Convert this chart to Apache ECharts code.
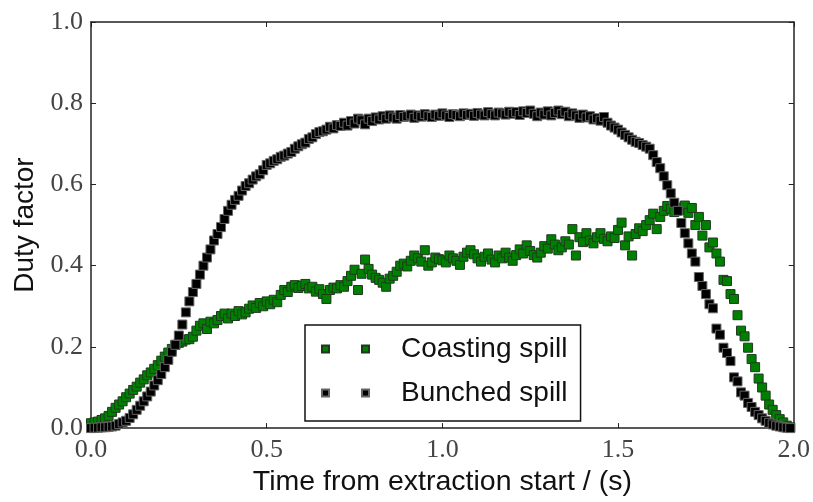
<!DOCTYPE html>
<html>
<head>
<meta charset="utf-8">
<script src="https://cdn.jsdelivr.net/npm/echarts@6/dist/echarts.min.js"></script>
<style>html,body{margin:0;padding:0;background:#fff}#c{width:813px;height:502px}</style>
</head>
<body>
<div id="c"></div>
<script>
// Time from extraction start (s)
const time = [
0.00,0.01,0.02,0.03,0.04,0.05,0.06,0.07,0.08,0.09,0.10,0.11,0.12,0.13,0.14,0.15,0.16,0.17,0.18,0.19,
0.20,0.21,0.22,0.23,0.24,0.25,0.26,0.27,0.28,0.29,0.30,0.31,0.32,0.33,0.34,0.35,0.36,0.37,0.38,0.39,
0.40,0.41,0.42,0.43,0.44,0.45,0.46,0.47,0.48,0.49,0.50,0.51,0.52,0.53,0.54,0.55,0.56,0.57,0.58,0.59,
0.60,0.61,0.62,0.63,0.64,0.65,0.66,0.67,0.68,0.69,0.70,0.71,0.72,0.73,0.74,0.75,0.76,0.77,0.78,0.79,
0.80,0.81,0.82,0.83,0.84,0.85,0.86,0.87,0.88,0.89,0.90,0.91,0.92,0.93,0.94,0.95,0.96,0.97,0.98,0.99,
1.00,1.01,1.02,1.03,1.04,1.05,1.06,1.07,1.08,1.09,1.10,1.11,1.12,1.13,1.14,1.15,1.16,1.17,1.18,1.19,
1.20,1.21,1.22,1.23,1.24,1.25,1.26,1.27,1.28,1.29,1.30,1.31,1.32,1.33,1.34,1.35,1.36,1.37,1.38,1.39,
1.40,1.41,1.42,1.43,1.44,1.45,1.46,1.47,1.48,1.49,1.50,1.51,1.52,1.53,1.54,1.55,1.56,1.57,1.58,1.59,
1.60,1.61,1.62,1.63,1.64,1.65,1.66,1.67,1.68,1.69,1.70,1.71,1.72,1.73,1.74,1.75,1.76,1.77,1.78,1.79,
1.80,1.81,1.82,1.83,1.84,1.85,1.86,1.87,1.88,1.89,1.90,1.91,1.92,1.93,1.94,1.95,1.96,1.97,1.98,1.99
];

// Coasting spill duty factor
const coasting = [
0.012,0.014,0.016,0.020,0.024,0.030,0.040,0.050,0.058,0.066,0.076,0.085,0.094,0.102,0.112,0.120,0.130,0.137,0.146,0.155,
0.166,0.176,0.186,0.195,0.205,0.210,0.213,0.218,0.219,0.225,0.240,0.252,0.258,0.244,0.262,0.258,0.266,0.276,0.282,0.270,
0.282,0.276,0.288,0.280,0.285,0.294,0.302,0.296,0.308,0.300,0.312,0.305,0.316,0.310,0.328,0.340,0.335,0.348,0.352,0.345,
0.350,0.355,0.344,0.348,0.336,0.342,0.330,0.318,0.340,0.346,0.344,0.352,0.348,0.362,0.375,0.390,0.340,0.380,0.415,0.392,
0.378,0.370,0.365,0.358,0.348,0.368,0.375,0.385,0.400,0.405,0.398,0.412,0.425,0.418,0.410,0.438,0.400,0.408,0.420,0.416,
0.413,0.408,0.425,0.418,0.412,0.402,0.422,0.432,0.438,0.428,0.418,0.410,0.422,0.430,0.415,0.408,0.425,0.418,0.432,0.420,
0.412,0.426,0.440,0.430,0.450,0.436,0.426,0.420,0.432,0.448,0.442,0.465,0.452,0.438,0.445,0.460,0.452,0.490,0.425,0.470,
0.458,0.480,0.462,0.455,0.470,0.480,0.466,0.460,0.472,0.468,0.488,0.506,0.450,0.472,0.425,0.478,0.492,0.485,0.500,0.512,
0.528,0.490,0.520,0.535,0.547,0.540,0.532,0.543,0.538,0.548,0.530,0.542,0.500,0.520,0.474,0.500,0.445,0.457,0.430,0.410,
0.365,0.362,0.330,0.318,0.278,0.240,0.226,0.198,0.170,0.150,0.122,0.100,0.080,0.058,0.045,0.032,0.022,0.014,0.006,0.002
];

// Bunched spill duty factor
const bunched = [
0.000,0.001,0.001,0.002,0.002,0.003,0.004,0.006,0.010,0.014,0.018,0.025,0.034,0.045,0.055,0.066,0.078,0.090,0.105,0.118,
0.133,0.150,0.168,0.188,0.205,0.228,0.255,0.285,0.312,0.335,0.355,0.378,0.400,0.420,0.440,0.462,0.478,0.495,0.515,0.535,
0.550,0.562,0.572,0.585,0.596,0.603,0.612,0.620,0.625,0.635,0.648,0.652,0.658,0.662,0.668,0.671,0.676,0.680,0.688,0.694,
0.699,0.703,0.712,0.716,0.724,0.729,0.731,0.735,0.742,0.738,0.746,0.744,0.752,0.745,0.756,0.750,0.762,0.758,0.748,0.762,
0.756,0.765,0.760,0.768,0.762,0.770,0.765,0.762,0.771,0.766,0.768,0.772,0.764,0.770,0.767,0.773,0.768,0.766,0.772,0.769,
0.775,0.770,0.766,0.773,0.771,0.768,0.775,0.771,0.774,0.769,0.776,0.772,0.770,0.778,0.773,0.770,0.777,0.775,0.772,0.779,
0.774,0.778,0.771,0.780,0.776,0.782,0.774,0.768,0.777,0.772,0.780,0.770,0.776,0.782,0.773,0.779,0.768,0.775,0.770,0.764,
0.772,0.765,0.768,0.760,0.763,0.757,0.766,0.752,0.745,0.740,0.735,0.728,0.722,0.716,0.710,0.705,0.702,0.697,0.693,0.688,
0.672,0.655,0.640,0.620,0.598,0.578,0.555,0.535,0.505,0.480,0.455,0.430,0.410,0.372,0.350,0.330,0.305,0.295,0.245,0.230,
0.198,0.185,0.165,0.125,0.115,0.088,0.080,0.062,0.052,0.040,0.032,0.024,0.018,0.013,0.009,0.006,0.004,0.002,0.001,0.000
];

const seriesNames = ['Coasting spill', 'Bunched spill'];
const xTicks = [0, 0.5, 1.0, 1.5, 2.0];
const yTicks = [0, 0.2, 0.4, 0.6, 0.8, 1.0];

const pairs = (xs, ys) => xs.map((x, i) => [x, ys[i]]);

const tickFont = { fontFamily: 'Liberation Serif', fontSize: 26, color: '#444' };
const frameLine = { show: true, onZero: false, lineStyle: { color: '#222', width: 1.5 } };
const inTick = { show: true, inside: true, length: 5, lineStyle: { color: '#222', width: 1 } };

const chart = echarts.init(document.getElementById('c'), null, { renderer: 'canvas' });
chart.setOption({
  animation: false,
  backgroundColor: '#fff',
  grid: { left: 91, right: 18, top: 22, bottom: 69, containLabel: false },
  xAxis: [
    {
      type: 'value', min: xTicks[0], max: xTicks[xTicks.length - 1], interval: 0.5,
      name: 'Time from extraction start / (s)', nameLocation: 'middle', nameGap: 37,
      nameTextStyle: { fontFamily: 'Liberation Sans', fontSize: 28.5, color: '#111' },
      axisLine: frameLine, axisTick: inTick, splitLine: { show: false },
      axisLabel: Object.assign({ margin: 9, formatter: v => v.toFixed(1) }, tickFont)
    },
    {
      type: 'value', position: 'top', min: xTicks[0], max: xTicks[xTicks.length - 1], interval: 0.5,
      axisLine: frameLine, axisTick: inTick, splitLine: { show: false }, axisLabel: { show: false }
    }
  ],
  yAxis: [
    {
      type: 'value', min: yTicks[0], max: yTicks[yTicks.length - 1], interval: 0.2,
      name: 'Duty factor', nameLocation: 'middle', nameGap: 49,
      nameTextStyle: { fontFamily: 'Liberation Sans', fontSize: 28, color: '#111' },
      axisLine: frameLine, axisTick: inTick, splitLine: { show: false },
      axisLabel: Object.assign({ margin: 8, formatter: v => v.toFixed(1) }, tickFont)
    },
    {
      type: 'value', position: 'right', min: yTicks[0], max: yTicks[yTicks.length - 1], interval: 0.2,
      axisLine: frameLine, axisTick: inTick, splitLine: { show: false }, axisLabel: { show: false }
    }
  ],
  legend: {
    orient: 'vertical', left: 305, top: 325,
    padding: [10, 13, 14, 16], itemGap: 16,
    backgroundColor: '#fff', borderColor: '#111', borderWidth: 1.5,
    icon: 'path://M0,0L7,0L7,7L0,7Z M40,0L47,0L47,7L40,7Z',
    itemWidth: 47, itemHeight: 7,
    textStyle: { fontFamily: 'Liberation Sans', fontSize: 28, color: '#111', lineHeight: 26, padding: [0, 0, 0, 27] },
    data: seriesNames
  },
  series: [
    {
      name: seriesNames[0], type: 'scatter', symbol: 'rect', symbolSize: 9,
      itemStyle: { color: '#008000', borderColor: '#1e3a1e', borderWidth: 1, opacity: 1 },
      data: pairs(time, coasting)
    },
    {
      name: seriesNames[1], type: 'scatter', symbol: 'rect', symbolSize: 9,
      itemStyle: { color: '#000', borderColor: '#666', borderWidth: 1, opacity: 1 },
      data: pairs(time, bunched)
    }
  ]
});
</script>
</body>
</html>
